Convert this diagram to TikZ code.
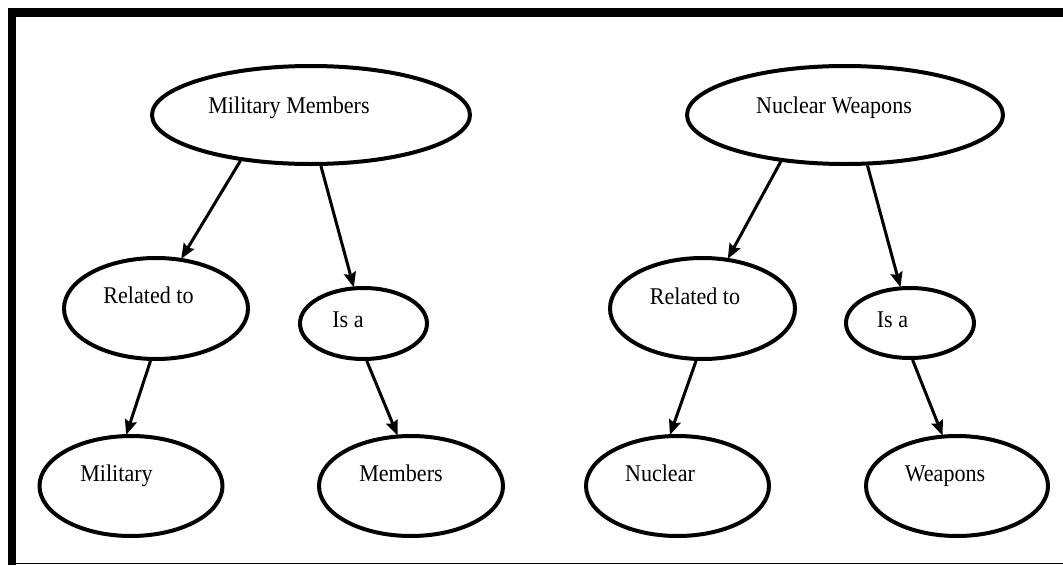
\documentclass[tikz,border=0pt]{standalone}
\usepackage{fontspec}
\setmainfont{Liberation Serif}[FakeStretch=0.92]
\usetikzlibrary{arrows.meta,shapes.geometric}
\begin{document}
\begin{tikzpicture}[x=1pt,y=-1pt,
  oval/.style={draw=black,ellipse,line width=4pt,inner sep=0pt},
  lbl/.style={anchor=base,inner sep=0pt,font=\fontsize{24}{28}\selectfont},
  conn/.style={line width=3pt,-{Stealth[length=15pt,width=12pt,inset=2pt]},shorten >=-1pt}]
\useasboundingbox (0,0) rectangle (1063,565);
% frame
\fill[black] (8,8) rectangle (1063,16.5);
\fill[black] (7.5,8) rectangle (16,565);
\draw[line width=1.5pt] (8,563.5) -- (1063,563.5);
% ellipses
\node[oval,minimum width=318pt,minimum height=98pt] (MM) at (311,115) {};
\node[oval,minimum width=316pt,minimum height=98pt] (NW) at (845,115) {};
\node[oval,minimum width=184pt,minimum height=101pt] (RTL) at (156,308.5) {};
\node[oval,minimum width=127pt,minimum height=71pt] (ISL) at (363.5,323.5) {};
\node[oval,minimum width=183pt,minimum height=100pt] (MIL) at (131,486) {};
\node[oval,minimum width=184pt,minimum height=100pt] (MEM) at (411,486) {};
\node[oval,minimum width=185pt,minimum height=101pt] (RTR) at (702.5,308.5) {};
\node[oval,minimum width=128pt,minimum height=70pt] (ISR) at (910,323) {};
\node[oval,minimum width=183pt,minimum height=100pt] (NUC) at (677.5,486) {};
\node[oval,minimum width=182pt,minimum height=100pt] (WEA) at (957,486) {};
% texts
\node[lbl] (tMM) at (289,113) {Military Members};
\node[lbl] (tNW) at (834,113) {Nuclear Weapons};
\node[lbl] (tRTL) at (148.5,303) {Related to};
\node[lbl] (tISL) at (348,327) {Is a};
\node[lbl] (tMIL) at (116.5,481) {Military};
\node[lbl] (tMEM) at (401,481) {Members};
\node[lbl] (tRTR) at (695,304) {Related to};
\node[lbl] (tISR) at (892.5,327) {Is a};
\node[lbl] (tNUC) at (660,481) {Nuclear};
\node[lbl] (tWEA) at (945,481) {Weapons};
% connectors
\draw[conn] (MM.213) -- (RTL.63);
\draw[conn] (MM.281) -- (ISL.105);
\draw[conn] (RTL.264) -- (MIL.95);
\draw[conn] (ISL.275) -- (MEM.105);
\draw[conn] (NW.216) -- (RTR.63);
\draw[conn] (NW.294) -- (ISR.105);
\draw[conn] (RTR.263) -- (NUC.98);
\draw[conn] (ISR.274) -- (WEA.106);
\end{tikzpicture}
\end{document}
